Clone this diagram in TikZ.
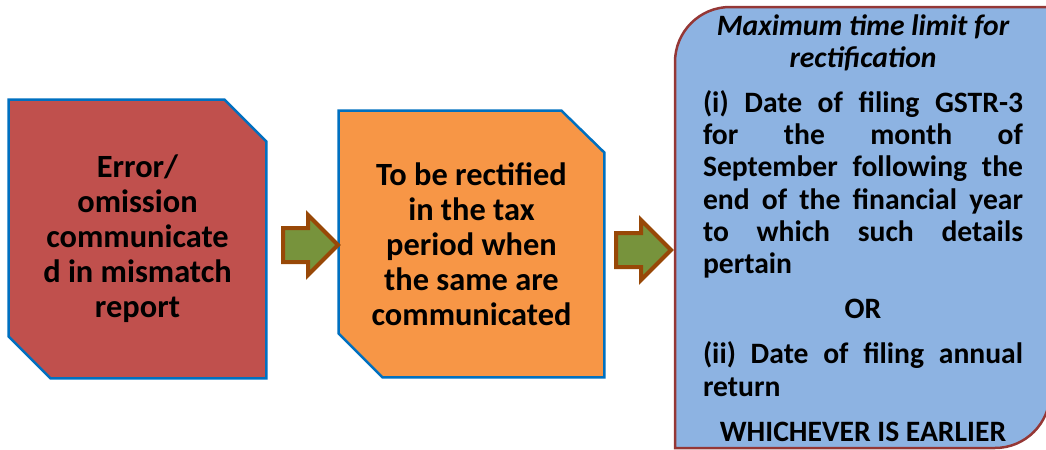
\documentclass[tikz,border=0pt]{standalone}
\usepackage{fontspec}
\setmainfont{Carlito}
\usetikzlibrary{shapes.arrows,backgrounds}
\definecolor{errred}{RGB}{192,80,77}
\definecolor{fixorange}{RGB}{247,150,70}
\definecolor{limitblue}{RGB}{141,179,226}
\definecolor{edgeblue}{RGB}{0,112,192}
\definecolor{edgered}{RGB}{149,55,53}
\definecolor{arrowgreen}{RGB}{119,147,60}
\definecolor{arrowbrown}{RGB}{152,72,7}

\begin{document}
\begin{tikzpicture}[x=0.5pt, y=-0.5pt,
    cutbox/.style={rectangle, inner sep=0pt, align=center,
      font=\fontsize{16.2}{17.5}\selectfont\bfseries},
    cutedge/.style={draw=edgeblue, line width=1.25pt},
    blockarrow/.style={single arrow, fill=arrowgreen, draw=arrowbrown, line width=2pt,
      single arrow head extend=6.5pt, inner xsep=0pt, inner ysep=7.5pt,
      minimum height=27.5pt, anchor=tail},
    limittext/.style={text width=160pt, align=justify, inner sep=0pt,
      font=\fontsize{14.8}{16.1}\selectfont\bfseries}]
  \useasboundingbox (0,0) rectangle (1046,450);
  % right panel, rounded on two corners
  \draw [fill=limitblue, draw=edgered, line width=1.25pt]
    (675,448) -- (675,62) arc[start angle=180, end angle=90, radius=27.5pt]
    -- (1050,7) -- (1050,393) arc[start angle=0, end angle=-90, radius=27.5pt] -- cycle;
  \node [limittext, anchor=north] (limit) at (863,14) {%
    \tolerance=10000\hbadness=10000
    {\centering\itshape Maximum time limit for\\rectification\par}
    \vspace{6.5pt}
    (i) Date of filing GSTR-3 \linebreak for the month of \linebreak September following the
    \linebreak end of the financial year \linebreak to which such details \linebreak pertain\par
    \vspace{6.5pt}
    {\centering OR\par}
    \vspace{6.5pt}
    (ii) Date of filing annual \linebreak return\par
    \vspace{6.5pt}
    {\centering WHICHEVER IS EARLIER\par}};
  \node [cutbox, minimum width=128.5pt, minimum height=139pt] (err) at (137.5,239)
    {Error/\\omission\\communicate\\d in mismatch\\report};
  \node [cutbox, minimum width=132.5pt, minimum height=133pt] (fix) at (471.5,244)
    {To be rectified\\in the tax\\period when\\the same are\\communicated};
  \begin{pgfonlayer}{background}
    \draw [cutedge, fill=errred] (err.north west) -- ([xshift=-21pt]err.north east)
      -- ([yshift=-21pt]err.north east) -- (err.south east)
      -- ([xshift=21pt]err.south west) -- ([yshift=21pt]err.south west) -- cycle;
    \draw [cutedge, fill=fixorange] (fix.north west) -- ([xshift=-21.5pt]fix.north east)
      -- ([yshift=-21pt]fix.north east) -- (fix.south east)
      -- ([xshift=22pt]fix.south west) -- ([yshift=22pt]fix.south west) -- cycle;
  \end{pgfonlayer}
  \node [blockarrow] (a1) at (281,245) {};
  \node [blockarrow] (a2) at (614,250) {};
\end{tikzpicture}
\end{document}
